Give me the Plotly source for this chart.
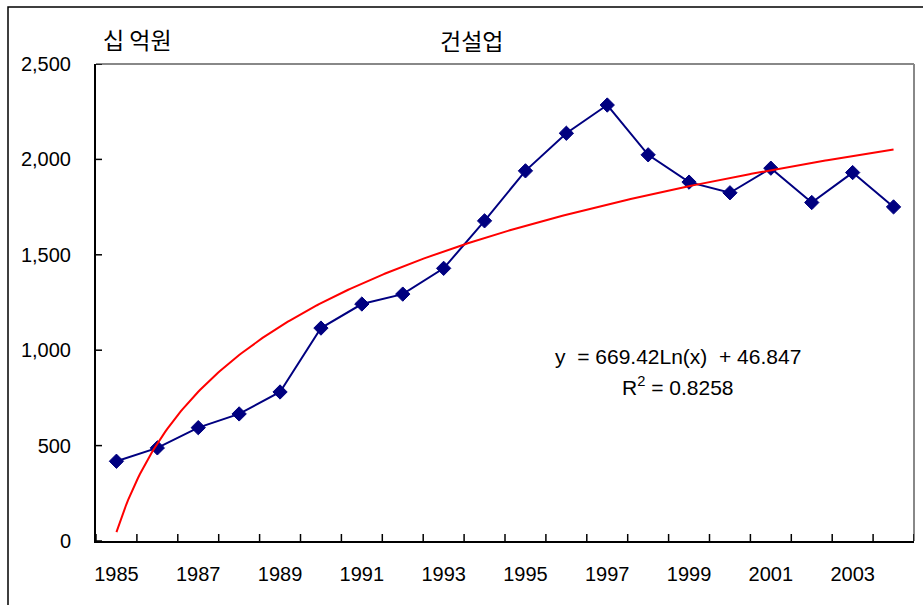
import numpy as np
import plotly.graph_objects as go

# Construction output by year (unit: 10 billion won)
years = [1985, 1986, 1987, 1988, 1989, 1990, 1991, 1992, 1993, 1994,
         1995, 1996, 1997, 1998, 1999, 2000, 2001, 2002, 2003, 2004]
values = [418, 488, 594, 666, 781, 1116, 1242, 1294, 1429, 1678,
          1940, 2137, 2285, 2024, 1881, 1825, 1954, 1774, 1931, 1751]

# Logarithmic trend line coefficients: y = a*ln(x) + b, x = 1..n
trend_a = 669.42
trend_b = 46.847
trend_r2 = 0.8258

y_ticks = [0, 500, 1000, 1500, 2000, 2500]
x_label_years = years[::2]

# plot-area geometry in pixels (used to place paper-referenced decorations)
W, H = 923, 605
L, R, T, B = 96, 9, 64, 64
PW, PH = W - L - R, H - T - B
Y_MAX = 2500


def px_x(px):
    return (px - L) / PW


def px_y(py):
    return (H - B - py) / PH


n = len(years)
x_lo, x_hi = years[0] - 0.5, years[-1] + 0.5
t = np.linspace(1, n, 400)
trend_x = years[0] - 1 + t
trend_y = trend_a * np.log(t) + trend_b

# short inward tick marks: x-axis ticks on category boundaries, y-axis ticks on values
x_tick_len = 7 * Y_MAX / PH          # 7 px expressed in data units
y_tick_len = 6 * (x_hi - x_lo) / PW  # 6 px expressed in data units
tick_x, tick_y = [], []
for b in [y - 0.5 for y in years] + [x_hi]:
    tick_x += [b, b, None]
    tick_y += [0, x_tick_len, None]
for v in y_ticks:
    tick_x += [x_lo, x_lo + y_tick_len, None]
    tick_y += [v, v, None]

fig = go.Figure()

fig.add_trace(go.Scatter(
    x=tick_x, y=tick_y, mode="lines",
    line=dict(color="#000", width=1.5),
    showlegend=False, hoverinfo="skip", cliponaxis=False,
))

fig.add_trace(go.Scatter(
    x=years, y=values, mode="lines+markers",
    line=dict(color="#000080", width=2),
    marker=dict(symbol="diamond", size=11, color="#000080",
                line=dict(color="#000080", width=1)),
    showlegend=False, hoverinfo="x+y",
))

fig.add_trace(go.Scatter(
    x=trend_x, y=trend_y, mode="lines",
    line=dict(color="#ff0000", width=2),
    showlegend=False, hoverinfo="skip",
))

tick_font = dict(family="Liberation Sans, Arial, sans-serif", size=20, color="#000")
eq_font = dict(family="Liberation Sans, Arial, sans-serif", size=21, color="#000")
kr_font = dict(family="Noto Sans CJK KR", size=23, color="#000")

fig.update_layout(
    width=W, height=H,
    margin=dict(l=L, r=R, t=T, b=B, pad=0, autoexpand=False),
    paper_bgcolor="white", plot_bgcolor="white",
    xaxis=dict(
        range=[x_lo, x_hi], tickmode="array", tickvals=x_label_years,
        ticktext=[str(v) for v in x_label_years], tickangle=0,
        ticks="", showgrid=False, zeroline=False,
        showline=True, linecolor="#000", linewidth=2,
        tickfont=tick_font, ticklabelstandoff=14,
    ),
    yaxis=dict(
        range=[0, Y_MAX], tickmode="array", tickvals=y_ticks,
        ticktext=[f"{v:,}" for v in y_ticks],
        ticks="", showgrid=False, zeroline=False,
        showline=True, linecolor="#000", linewidth=2,
        tickfont=tick_font, ticklabelstandoff=19,
    ),
    shapes=[
        # plot-area frame (top and right sides in gray)
        dict(type="line", xref="paper", yref="paper", x0=0, x1=1, y0=1, y1=1,
             line=dict(color="#888", width=2), layer="below"),
        dict(type="line", xref="paper", yref="paper", x0=1, x1=1, y0=0, y1=1,
             line=dict(color="#888", width=2), layer="below"),
        # outer chart frame
        dict(type="rect", xref="paper", yref="paper",
             x0=px_x(8), x1=px_x(W + 20), y0=px_y(H + 20), y1=px_y(7),
             line=dict(color="#000", width=1.5), layer="below"),
    ],
    annotations=[
        dict(text="십 억원", xref="paper", yref="paper",
             x=px_x(101), y=px_y(39), xanchor="left", yanchor="middle",
             showarrow=False, font=kr_font),
        dict(text="건설업", xref="paper", yref="paper",
             x=px_x(471), y=px_y(40), xanchor="center", yanchor="middle",
             showarrow=False, font=kr_font),
        dict(text=f"y&nbsp; = {trend_a}Ln(x)&nbsp; + {trend_b}",
             xref="paper", yref="paper",
             x=px_x(678), y=px_y(357), xanchor="center", yanchor="middle",
             showarrow=False, font=eq_font),
        dict(text=f"R<sup>2</sup> = {trend_r2}", xref="paper", yref="paper",
             x=px_x(678), y=px_y(386), xanchor="center", yanchor="middle",
             showarrow=False, font=eq_font),
    ],
)

fig.write_html("out.html")
